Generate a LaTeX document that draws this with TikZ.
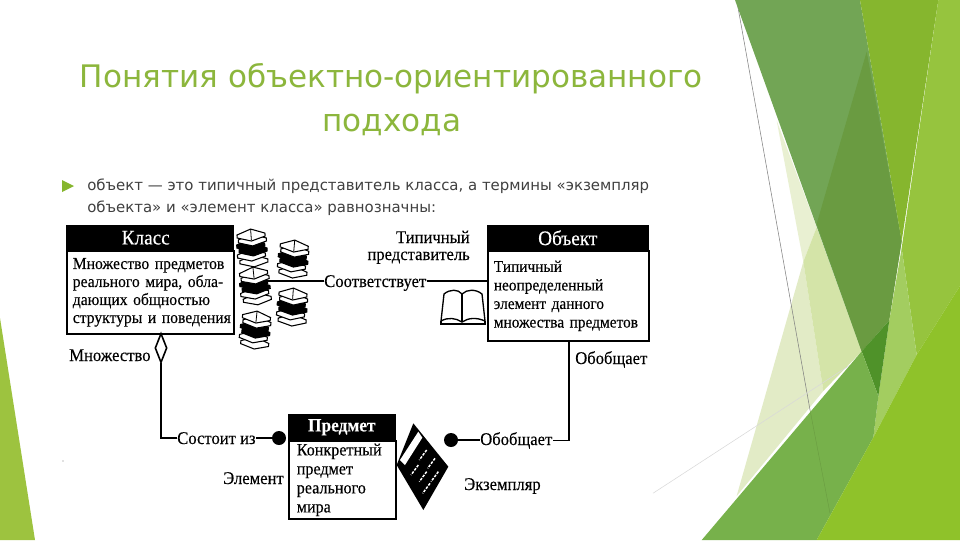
\documentclass[tikz,border=0pt]{standalone}
\usepackage{fontspec}
\setmainfont{DejaVu Sans}
\newfontfamily\scanfont[FakeStretch=0.93,FakeBold=0.25]{Liberation Serif}
\usetikzlibrary{shapes.geometric}
\definecolor{titlegreen}{HTML}{8CB63C}
\definecolor{bodygray}{HTML}{404040}
\definecolor{fpale}{HTML}{E2EBC6}
\definecolor{fpaleb}{HTML}{E9F0D2}
\definecolor{fover}{HTML}{D4E4A8}
\definecolor{fdarka}{HTML}{72A555}
\definecolor{fdarkb}{HTML}{6A9B41}
\definecolor{fmid}{HTML}{86B62E}
\definecolor{flight}{HTML}{96C43E}
\definecolor{fpalegreen}{HTML}{A3CD60}
\definecolor{fdeep}{HTML}{4F9229}
\definecolor{flow}{HTML}{77B14B}
\definecolor{fbright}{HTML}{8FC22A}
\definecolor{fleft}{HTML}{9DC33F}
\tikzset{
  titletext/.style={text=titlegreen,font=\fontsize{23.3pt}{28pt}\selectfont,inner sep=0pt,anchor=base},
  bodytext/.style={text=bodygray,font=\fontsize{11.2pt}{14pt}\selectfont,inner sep=0pt,anchor=base west},
  headbox/.style={fill=black,draw=black,text=white,font=\scanfont\fontsize{15.5pt}{15pt}\selectfont,anchor=north west,inner sep=0pt,minimum height=18.75pt},
  bodybox/.style={draw=black,line width=1.2pt,fill=white,anchor=north west,align=left,inner ysep=0pt},
  lab/.style={font=\scanfont\fontsize{13.4pt}{13pt}\selectfont,inner sep=0pt},
  wire/.style={draw=black,line width=1.2pt},
  dot/.style={circle,fill=black,inner sep=0pt,minimum size=10.5pt},
  bookpage/.style={fill=white,draw=black,line width=0.8pt},
  bookdark/.style={fill=black,draw=black,line width=0.8pt},
  stackpic/.pic={
    \foreach \yy/\xx/\st in {12/1/bookpage,6/-1/bookpage,1/1/bookdark,-4/-1/bookdark,-9/1/bookpage,-14/0/bookpage}{
      \path[\st] (\xx-14,\yy-1) -- (\xx,\yy-6) -- (\xx+14,\yy-1) -- (\xx+14,\yy+2) -- (\xx,\yy+6) -- (\xx-14,\yy+2) -- cycle;
    }
    \draw[black,line width=0.6pt] (0,-20) -- (0,-9);
  }
}
\begin{document}
\begin{tikzpicture}[x=0.75pt,y=-0.75pt]
\useasboundingbox (0,0) rectangle (960,540);
\fill[white] (0,0) rectangle (960,540);
% decorative facets, coordinates read from a crop at x=720
\begin{scope}[shift={(720,0)},x=0.25pt,y=-0.25833pt]
  \fill[fpaleb] (170,350) -- (290,660) -- (250,760) -- cycle;
  \fill[fpale] (250,760) -- (310,1135) -- (50,1440) -- cycle;
  \fill[fover] (290,660) -- (425,1020) -- (310,1135) -- (250,760) -- cycle;
  \draw[gray,line width=0.4pt] (50,0) -- (270,1190);
  \draw[gray!30,line width=0.4pt] (-201,1432) -- (390,1060);
  \fill[fdarka] (45,0) -- (420,0) -- (545,700) -- (505,930) -- (425,1020) -- cycle;
  \fill[fdarkb] (440,150) -- (545,700) -- (508,930) -- (425,1020) -- (290,650) -- cycle;
  \fill[fmid] (420,0) -- (655,0) -- (545,700) -- cycle;
  \fill[flight] (655,0) -- (720,0) -- (720,830) -- (590,1030) -- (545,720) -- cycle;
  \fill[fpalegreen] (545,720) -- (590,1030) -- (460,1270) -- (475,1150) -- (508,930) -- cycle;
  \fill[fdeep] (425,1020) -- (508,930) -- (475,1150) -- cycle;
  \fill[flow] (-55,1568) -- (425,1020) -- (475,1150) -- (460,1270) -- (290,1568) -- cycle;
  \fill[fbright] (720,830) -- (590,1030) -- (460,1270) -- (290,1568) -- (720,1568) -- cycle;
  \draw[fdarkb,line width=0.3pt] (270,1190) -- (330,1490);
\end{scope}
\fill[fleft] (0,318) -- (35,540) -- (0,540) -- cycle;
% title and bullet
\node[titletext] (t1) at (391,87) {Понятия объектно-ориентированного};
\node[titletext] (t2) at (392,131) {подхода};
\fill[fmid] (62,180) -- (74,186) -- (62,192) -- cycle;
\node[bodytext] (b1) at (87,190) {объект — это типичный представитель класса, а термины «экземпляр};
\node[bodytext] (b2) at (87,212) {объекта» и «элемент класса» равнозначны:};
% stacks of books
\foreach \px/\py/\rr in {252/249/4,293/260/-5,255/287/6,292/308/-4,255/331/-6}
  \pic[rotate=\rr] at (\px,\py) {stackpic};
\coordinate (stackend) at (268,281);
% boxes
\node[bodybox,inner xsep=4.5pt,minimum width=125.25pt,text width=116.25pt,minimum height=62.25pt,font=\scanfont\fontsize{12.6pt}{13.5pt}\selectfont] (klassbody) at (66,250)
  {\mbox{Множество предметов}\\\mbox{реального мира, обла-}\\\mbox{дающих общностью}\\\mbox{структуры и поведения}};
\node[headbox,minimum width=125.25pt] (klass) at (66,225) {Класс\hspace*{6pt}};
\node[bodybox,inner xsep=4.5pt,minimum width=120.75pt,text width=111.75pt,minimum height=67.5pt,font=\scanfont\fontsize{12.4pt}{13.9pt}\selectfont] (objbody) at (487,250)
  {\mbox{Типичный}\\\mbox{неопределенный}\\\mbox{элемент данного}\\\mbox{множества предметов}};
\node[headbox,minimum width=120.75pt] (obj) at (487,225) {Объект};
\node[bodybox,inner xsep=6pt,minimum width=80.25pt,text width=68.25pt,minimum height=58.5pt,font=\scanfont\fontsize{13pt}{14.25pt}\selectfont] (predbody) at (288,440)
  {\mbox{Конкретный}\\\mbox{предмет}\\\mbox{реального}\\\mbox{мира}};
\node[headbox,minimum width=80.25pt,minimum height=19.5pt,font=\scanfont\bfseries\fontsize{14pt}{15pt}\selectfont] (pred) at (288,414) {Предмет};
% labels
\node[lab,anchor=base west] (mnozh) at (69,361) {Множество};
\node[lab,anchor=base east] (typ1) at (470,243) {Типичный};
\node[lab,anchor=base east] (typ2) at (470,260) {представитель};
\node[lab,anchor=base west] (sootv) at (324,287) {Соответствует};
\node[lab,anchor=base west] (obobr) at (575,364) {Обобщает};
\node[lab,anchor=base west] (sost) at (177,444) {Состоит из};
\node[lab,anchor=base west] (obobb) at (480,445) {Обобщает};
\node[lab,anchor=base west] (elem) at (223,484) {Элемент};
\node[lab,anchor=base west] (ekz) at (464,490) {Экземпляр};
% connector ends
\node[diamond,draw=black,line width=1.2pt,fill=white,inner sep=0pt,minimum width=9pt,minimum height=22pt] (dia) at (161,348) {};
\node[dot] (dotl) at (279,438) {};
\node[dot] (dotr) at (451,440) {};
\coordinate (objfoot) at (569,340);
\draw[wire] (dia.south) |- (sost.west);
\draw[wire] (sost.east |- dotl) -- (dotl);
\draw[wire] (objfoot) |- (obobb.east);
\draw[wire] (obobb.west |- dotr) -- (dotr);
\draw[wire] (stackend) -- (sootv.west |- stackend);
\draw[wire] (sootv.east |- stackend) -- (objbody.west |- stackend);
% open book
\begin{scope}[shift={(440,290)}]
  \draw[black,line width=1pt,fill=white] (1,31) -- (4,4) .. controls (10,-1) and (18,-1) .. (22,4) .. controls (27,-1) and (36,-1) .. (42,4) -- (45,31) .. controls (36,27) and (28,28) .. (22,32) .. controls (16,28) and (8,27) .. (1,31) -- cycle;
  \draw[black,line width=0.8pt] (22,4) -- (22,32);
  \draw[black,line width=0.8pt] (1,31) -- (1,34) -- (45,34) -- (45,31);
\end{scope}
% closed book
\begin{scope}[shift={(385,415)},x=0.25pt,y=-0.25pt]
  \fill[black] (85,25) -- (190,155) -- (115,285) -- (35,150) -- cycle;
  \fill[white] (100,50) -- (45,135) -- (60,150) -- (112,68) -- cycle;
  \foreach \u/\v in {125/105,100/150,150/130,125/170,160/170,135/205}
    \draw[white,line width=1.1pt,dash pattern=on 2pt off 1pt] (\u,\v) -- ++(-22,30);
\end{scope}
\fill[gray] (63,461) circle (0.7);
\end{tikzpicture}
\end{document}
